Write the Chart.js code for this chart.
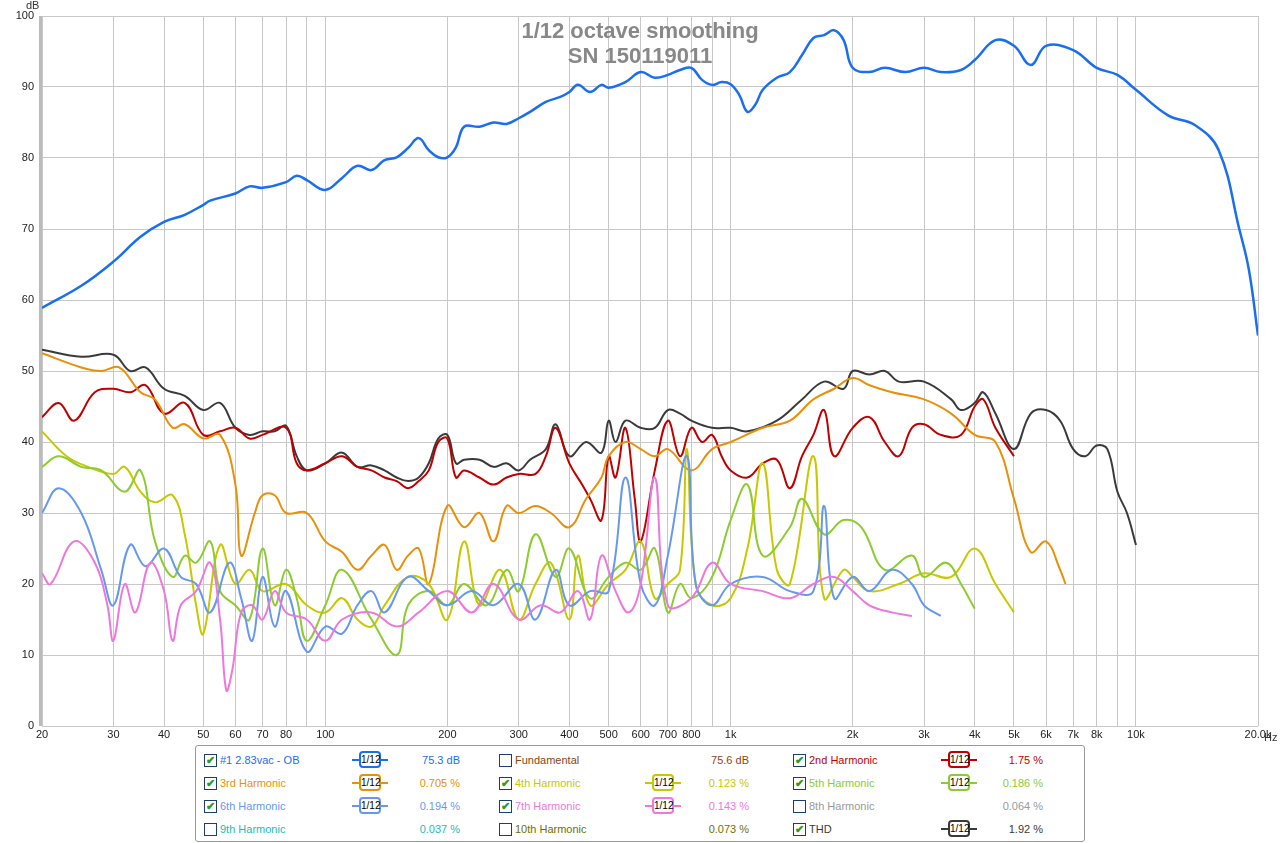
<!DOCTYPE html>
<html><head><meta charset="utf-8">
<script src="https://cdn.jsdelivr.net/npm/chart.js@4"></script>
<style>
body{margin:0;background:#fff;font-family:"Liberation Sans",Arial,sans-serif;}
#wrap{position:absolute;left:0;top:0;width:1280px;height:745px;}
#leg{position:absolute;left:195px;top:745px;width:888px;height:95px;border:1px solid #999;border-radius:3px;font-size:11px;}
.it{position:absolute;white-space:nowrap;}
.cb{position:absolute;width:11px;height:11px;border:1px solid #1c3f6e;background:#fff;font-size:11px;line-height:10px;color:#2a9a2a;text-align:center;font-weight:bold}
.ic{position:absolute;width:36px;height:17px;}
.ic i{position:absolute;left:0;right:0;top:8px;height:2px}
.ic b{position:absolute;left:7px;width:22px;top:0;height:17px;border:2px solid;border-radius:4px;background:#fff;font:normal 10px "Liberation Sans";color:#000;text-align:center;line-height:13px;box-sizing:border-box}
.v{position:absolute;text-align:right;width:60px}
</style></head><body>
<div id="wrap"><canvas id="c" width="1280" height="745"></canvas></div>
<div id="leg"></div>
<script>
// datos (frecuencia Hz, dB)
const f1 = [20,25,30,35,40,45,50,52,60,65,70,80,85,90,100,110,120,130,140,150,160,170,180,190,200,210,220,240,260,280,300,320,350,380,400,420,450,480,500,550,600,650,700,750,800,850,900,950,1000,1050,1100,1150,1200,1300,1400,1500,1600,1700,1800,1900,2000,2200,2400,2700,3000,3300,3700,4000,4500,5000,5500,6000,7000,8000,9000,10000,12000,14000,16000,18000,19000,20000];
const v1 = [58.9,62,65.4,68.9,71,72,73.4,74,75,76,75.8,76.6,77.5,76.9,75.5,77.2,78.9,78.3,79.7,80.1,81.4,82.8,81.1,80.1,80.1,81.5,84.4,84.4,85,84.8,85.6,86.5,87.9,88.6,89.3,90.3,89.3,90.3,89.9,90.7,92.1,91.3,91.7,92.4,92.7,91,90.3,90.7,90.4,88.9,86.5,87.5,89.6,91.3,92.1,94.5,96.9,97.3,98,96.6,92.7,92.1,92.7,92.1,92.7,92.1,92.4,93.8,96.6,95.8,93.1,95.8,95.2,92.7,91.7,89.6,86,84.6,81.1,69.9,64.2,55];

const fThd = [20,25,30,33,36,40,45,50,55,60,65,70,75,80,85,90,100,110,120,130,140,150,160,170,180,190,200,210,220,240,260,280,300,320,350,370,400,440,480,500,520,550,600,650,700,750,800,900,1000,1100,1300,1500,1700,1900,2000,2200,2400,2600,3000,3500,3700,4000,4200,4500,5000,5500,6000,6500,7000,7500,8000,8500,9000,9500,10000];
const vThd = [53,52,52.3,50,50.5,47.5,46.5,44.5,45.5,42,41,41.5,41.5,42.3,38,36,37,38.5,36.5,36.7,36,35,34.5,35,37,40.5,41,37,37.5,37.5,36.5,37,36,37.5,39,42.5,38,40,38.5,43,40,43,42,42,44.5,44,43,42,42,41.5,43,46,48.5,47.5,50,49.5,50,48.5,48.5,46,44.5,45.5,47,44,39,44,44.5,43,39,38,39.5,39,33,30,25.5];

const f2 = [20,22,24,27,30,33,36,40,45,50,55,60,65,70,80,85,90,100,110,120,130,140,150,160,170,180,190,200,210,220,240,260,280,300,330,350,370,400,430,450,480,500,520,550,580,600,650,700,750,800,850,900,950,1000,1100,1200,1300,1400,1500,1600,1700,1800,2000,2200,2400,2600,2800,3000,3300,3700,4000,4200,4500,5000];
const v2 = [43.5,45.5,43,47,47.5,47,48,44,45.5,41,41.5,42,40.5,41,42,37,36,37,38,36.5,36,35,34.5,33.5,34.5,36,40,40.5,35,36,35,34,35,35.5,35.5,38,42,37,34,32,29,38,35,42,32,26,36,43,38,42,40,41,38,36,35,37,37.5,33.5,38,41,44.5,38,42,43.5,40,38,42,42.5,41,41,45,46,42,38];

const f3 = [20,25,28,31,35,38,42,45,50,55,60,62,67,70,75,80,90,100,110,120,130,140,150,160,170,180,200,220,240,260,280,300,330,360,400,440,480,500,550,600,650,700,800,900,1000,1200,1400,1600,1800,2000,2200,2500,3000,3500,4000,4500,5000,5500,6000,6500,6700];
const v3 = [52.5,50.5,50,50.5,47,46,42,42.5,40.5,41,34,24,30,32.5,32.5,30,30,26,24.5,22,24,25.5,22,24,25,20,31,28,30,26,31,30,31,30,28,32,35,38,40,39,38,39,36,39,40,42,43,46,47.5,49,48,47,46,44,41,40,32,24.5,26,22,20];

const f4 = [20,23,26,30,32,35,38,42,45,48,50,55,60,65,70,80,90,100,110,120,130,140,160,180,200,220,240,270,300,330,360,400,420,450,500,550,600,650,700,750,780,820,900,1000,1100,1200,1300,1400,1600,1700,1900,2000,2200,2600,3000,3500,4000,4500,5000];
const v4 = [41.5,38,36.5,35.5,36.5,33,31.5,32.5,27,17,13,25.5,20,22,19,20,17,16,18,15,14,17,21,20,15,26,17,22,15,20,23,15,24,17,20,22,26,18,20,22,39,20,17,18,25,37,22,20,38,18,22,21,19,20,21.5,21,25,20,16];

const f5 = [20,22,25,28,32,35,38,42,45,48,52,55,60,65,70,75,80,85,90,100,110,130,150,160,180,200,220,250,280,300,330,370,400,450,500,550,600,650,700,750,800,900,1000,1100,1200,1400,1500,1700,1900,2100,2400,2800,3000,3400,3700,4000];
const v5 = [36.5,38,36.5,36,33,36,26,21,24,23,26,19,17,15,25,17,22,18,12,17,22,15,10,17,19,17,20,17,22,19,27,21,25,18,21,23,22,25,16,20,18,21,29,34,24,28,32,27,29,28,22,24,21,23,20,16.5];

const f6 = [20,22,25,28,30,33,36,40,44,48,52,58,62,66,70,75,80,90,100,110,120,130,140,160,180,200,230,260,300,330,370,400,450,500,550,600,650,700,780,820,900,1000,1200,1400,1600,1700,1800,2000,2200,2500,2800,3000,3300];
const v6 = [30,33.5,30,22,17,25.5,22.5,25,21,20,16,23,18,12,21,14,19,10.5,14,13,17,19,16,21,19,17,19,17,20,15,22,17,19,19,35,20,17,24,38,20,17,20,21,19,19,31,18,21,19,22,20,17,15.5];

const f7 = [20,21,24,27,29,30,32,34,37,40,42,44,48,52,55,57,59,62,66,70,75,80,90,100,110,130,150,170,200,230,260,300,340,380,420,450,480,520,560,600,650,700,800,900,1000,1200,1400,1600,1800,2000,2200,2500,2800];
const v7 = [21.5,20,26,23,17,12,20,16,23,19,12,17,19,23,15,5,8,16,17,15,19,16,15,12,15,16,14,16,19,16,20,15,17,16,19,15,24,19,16,20,35,17,18,23,20,19,18,20,21,19,17,16,15.5];

const xTicks = [20,30,40,50,60,70,80,90,100,200,300,400,500,600,700,800,900,1000,2000,3000,4000,5000,6000,7000,8000,9000,10000,20000];
const xLabels = {20:'20',30:'30',40:'40',50:'50',60:'60',70:'70',80:'80',100:'100',200:'200',300:'300',400:'400',500:'500',600:'600',700:'700',800:'800',1000:'1k',2000:'2k',3000:'3k',4000:'4k',5000:'5k',6000:'6k',7000:'7k',8000:'8k',10000:'10k',20000:'20.0k'};

function serie(f, v, color, w) {
  return { data: f.map((x, i) => ({x: x, y: v[i]})), borderColor: color, borderWidth: w || 2,
    pointRadius: 0, tension: 0.4, fill: false };
}

const extras = {
  id: 'extras',
  beforeDraw(chart) {
    const a = chart.chartArea, c = chart.ctx;
    c.save();
    c.fillStyle = '#bbb';
    c.fillRect(a.left - 3, a.top, 3, a.bottom - a.top);
    c.restore();
  },
  afterDraw(chart) {
    const c = chart.ctx;
    c.save();
    c.fillStyle = '#888';
    c.font = 'bold 22px "Liberation Sans"';
    c.textAlign = 'center';
    c.fillText('1/12 octave smoothing', 640, 38);
    c.fillText('SN 150119011', 640, 63);
    c.fillStyle = '#333';
    c.font = '11px "Liberation Sans"';
    c.textAlign = 'left';
    c.fillText('dB', 26, 9);
    c.fillText('Hz', 1264, 741);
    c.restore();
  }
};

new Chart(document.getElementById('c'), {
  type: 'line',
  data: { datasets: [
    serie(f7, v7, '#ee77dd'),
    serie(f6, v6, '#6699ee'),
    serie(f5, v5, '#8ccc30'),
    serie(f4, v4, '#c8c800'),
    serie(f3, v3, '#e8900a'),
    serie(f2, v2, '#c00000'),
    serie(fThd, vThd, '#3a3a3a'),
    serie(f1, v1, '#1a6ef0', 2.5)
  ]},
  options: {
    responsive: false, animation: false,
    layout: { padding: { top: 16, right: 22, left: 0, bottom: 0 } },
    plugins: { legend: { display: false }, tooltip: { enabled: false } },
    scales: {
      x: { type: 'logarithmic', min: 20, max: 20000,
        afterBuildTicks: s => { s.ticks = xTicks.map(v => ({value: v})); },
        afterFit: s => { s.height = 19; },
        ticks: { autoSkip: false, maxRotation: 0, color: '#222', font: {size: 11, family: 'Liberation Sans'}, padding: 2,
          callback: v => xLabels[v] || '' },
        grid: { color: '#c8c8c8', drawTicks: false }, border: { display: false } },
      y: { min: 0, max: 100,
        afterFit: s => { s.width = 42; },
        ticks: { stepSize: 10, color: '#222', font: {size: 11, family: 'Liberation Sans'}, padding: 8 },
        grid: { color: '#c8c8c8', drawTicks: false }, border: { display: false } }
    }
  },
  plugins: [extras]
});

// leyenda
const rows = [
  [['#1  2.83vac - OB', '#1a6ef0', true, '75.3 dB', true], ['Fundamental', '#8b4513', false, '75.6 dB', false], ['2nd Harmonic', '#c00000', true, '1.75 %', true]],
  [['3rd Harmonic', '#e8900a', true, '0.705 %', true], ['4th Harmonic', '#c8c800', true, '0.123 %', true], ['5th Harmonic', '#8ccc30', true, '0.186 %', true]],
  [['6th Harmonic', '#6699ee', true, '0.194 %', true], ['7th Harmonic', '#ee77dd', true, '0.143 %', true], ['8th Harmonic', '#999999', false, '0.064 %', false]],
  [['9th Harmonic', '#22bbbb', false, '0.037 %', false], ['10th Harmonic', '#707000', false, '0.073 %', false], ['THD', '#3a3a3a', true, '1.92 %', true]]
];
const colX = [8, 303, 597];
const leg = document.getElementById('leg');
let html = '';
rows.forEach((r, ri) => {
  const y = 8 + ri * 23;
  r.forEach((it, ci) => {
    const x = colX[ci];
    html += `<div class="cb" style="left:${x}px;top:${y}px">${it[2] ? '&#10004;' : ''}</div>`;
    html += `<div class="it" style="left:${x + 16}px;top:${y}px;color:${it[1]}">${it[0]}</div>`;
    if (it[4]) html += `<div class="ic" style="left:${x + (ci === 1 ? 146 : 148)}px;top:${y - 3}px"><i style="background:${it[1]}"></i><b style="border-color:${it[1]}">1/12</b></div>`;
    html += `<div class="v" style="left:${x + (ci === 0 ? 196 : 190)}px;top:${y}px;color:${it[1]}">${it[3]}</div>`;
  });
});
leg.innerHTML = html;
</script>
</body></html>
